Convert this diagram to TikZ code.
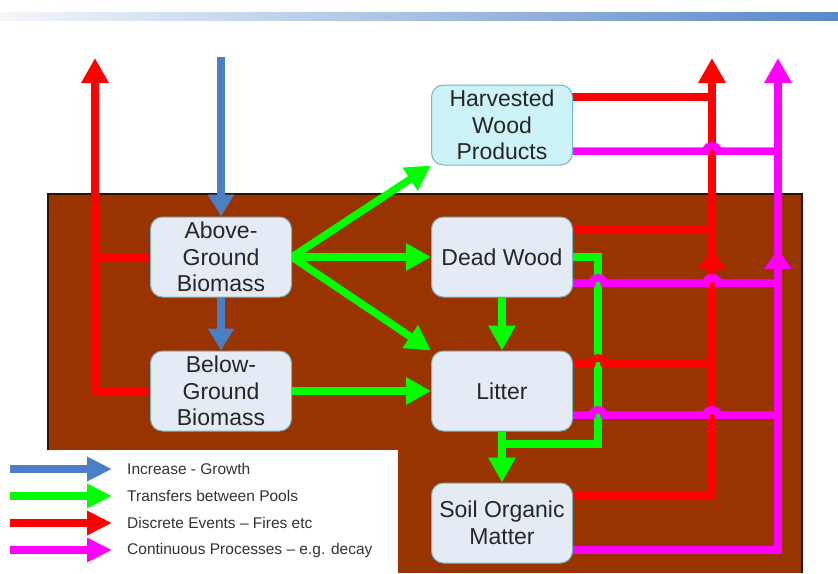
\documentclass[tikz,border=0pt]{standalone}
\usepackage{fontspec}
\setmainfont{Liberation Sans}
\usetikzlibrary{arrows.meta,calc}
\pgfdeclarelayer{back}
\pgfdeclarelayer{wires}
\pgfsetlayers{back,wires,main}

\definecolor{soil}{HTML}{993300}
\definecolor{soilrim}{HTML}{2A1408}
\definecolor{boxfill}{HTML}{E4EBF5}
\definecolor{hwpfill}{HTML}{CCF3F8}
\definecolor{boxedge}{HTML}{76B5C2}
\definecolor{growth}{HTML}{4A7EC5}
\definecolor{transfer}{HTML}{00FF00}
\definecolor{event}{HTML}{FF0000}
\definecolor{process}{HTML}{FF00FF}
\definecolor{txt}{HTML}{262626}
\definecolor{legtxt}{HTML}{333333}
\definecolor{barlight}{HTML}{F4F6FA}
\definecolor{bardark}{HTML}{5A88C8}

\tikzset{
  pool/.style={draw=boxedge, line width=1pt, fill=boxfill, rounded corners=12pt,
    minimum width=141pt, minimum height=80pt, inner sep=0pt, align=center,
    font=\fontsize{23}{26.5}\selectfont, text=txt},
  flow/.style={line width=7.5pt},
  bighead/.style={-{Triangle[width=26pt,length=25pt]}},
  bluehead/.style={-{Triangle[width=25pt,length=22pt]}},
  midhead/.style={-{Triangle[width=26pt,length=20pt]}},
  legarrow/.style={line width=8pt, -{Triangle[width=23pt,length=25pt]}},
  legtext/.style={inner sep=0pt, anchor=west, text=legtxt,
    font=\fontsize{15.5}{18}\selectfont},
  % a horizontal line jumping over a vertical one
  hop/.style={to path={-- ($(\tikztotarget)+(-6,0)$)
    .. controls +(0,-7) and +(0,-7) .. ($(\tikztotarget)+(6,0)$)}}
}

\begin{document}
\begin{tikzpicture}[x=1pt,y=-1pt]
\useasboundingbox (0,0) rectangle (838,573);

% background: title bar, soil block, legend panel
\begin{pgfonlayer}{back}
  \shade[left color=barlight, right color=bardark] (0,12) rectangle (838,20);
  \fill[soil] (48,194) rectangle (802,573);
  \draw[line width=1.2pt, soilrim] (48,573) -- (48,194) -- (802,194) -- (802,573);
  \fill[white] (0,450) rectangle (398,573);
\end{pgfonlayer}

% carbon pools
\node[pool] (agb) at (221,257) {Above-\\Ground\\Biomass};
\node[pool] (bgb) at (221,391) {Below-\\Ground\\Biomass};
\node[pool, fill=hwpfill] (hwp) at (502,125) {Harvested\\Wood\\Products};
\node[pool] (dw)  at (502,257) {Dead Wood};
\node[pool] (lit) at (502,391) {Litter};
\node[pool] (som) at (502,523) {Soil Organic\\Matter};

% trunk ends and corners
\coordinate (sky)     at (221,57);
\coordinate (lefttop) at (95,58);
\coordinate (redtop)  at (712,58);
\coordinate (magtop)  at (778,58);
\coordinate (redmid)  at (712,249);
\coordinate (magmid)  at (778,249);
\coordinate (loopx)   at (598,444);

\begin{pgfonlayer}{wires}
  % growth
  \draw[flow, growth, bluehead] (sky) -- (agb.north);
  \draw[flow, growth, bluehead] (agb.south) -- (bgb.north);

  % transfers between pools
  \draw[flow, transfer, bighead] (agb.east) -- (hwp.south west);
  \draw[flow, transfer, bighead] (agb.east) -- (dw.west);
  \draw[flow, transfer, bighead] (agb.east) -- (lit.north west);
  \draw[flow, transfer, bighead] (bgb.east) -- (lit.west);
  \draw[flow, transfer, bighead] (dw.south) -- (lit.north);
  \draw[flow, transfer] (dw.east) -| (loopx) -- (loopx -| lit.south);
  \draw[flow, transfer, bighead] (lit.south) -- (som.north);

  % discrete events
  \draw[flow, event] (agb.west) -- (agb.west -| lefttop);
  \draw[flow, event, bighead] (bgb.west) -| (lefttop);
  \draw[flow, event] ($(hwp.east)+(-8,-28)$) coordinate (e1) -- (e1 -| redtop);
  \draw[flow, event] ($(dw.east)+(-8,-27)$) coordinate (e2) -- (e2 -| redtop);
  \draw[flow, event] ($(lit.east)+(-8,-28)$) coordinate (e3)
    to[hop] (e3 -| loopx) -- (e3 -| redtop);
  \draw[flow, event, bighead] ($(som.east)+(-8,-28)$) -| (redtop);
  \draw[flow, event, midhead] ([yshift=-22pt]redmid) -- (redmid);

  % continuous processes
  \draw[flow, process] ($(hwp.east)+(-8,26)$) coordinate (p1)
    to[hop] (p1 -| redtop) -- (p1 -| magtop);
  \draw[flow, process] ($(dw.east)+(-8,26)$) coordinate (p2)
    to[hop] (p2 -| loopx) to[hop] (p2 -| redtop) -- (p2 -| magtop);
  \draw[flow, process] ($(lit.east)+(-8,24)$) coordinate (p3)
    to[hop] (p3 -| loopx) to[hop] (p3 -| redtop) -- (p3 -| magtop);
  \draw[flow, process, bighead] ($(som.east)+(-8,27)$) -| (magtop);
  \draw[flow, process, midhead] ([yshift=-22pt]magmid) -- (magmid);
\end{pgfonlayer}

% legend
\node[legtext] (k1) at (127,469) {Increase - Growth};
\node[legtext] (k2) at (127,496) {Transfers between Pools};
\node[legtext] (k3) at (127,523) {Discrete Events -- Fires etc};
\node[legtext] (k4) at (127,550) {Continuous Processes -- e.g. decay};
\coordinate (s1) at (10,469);
\coordinate (s2) at (10,496);
\coordinate (s3) at (10,523);
\coordinate (s4) at (10,550);
\draw[legarrow, growth]   (s1) -- ([xshift=-15pt]k1.west);
\draw[legarrow, transfer] (s2) -- ([xshift=-15pt]k2.west);
\draw[legarrow, event]    (s3) -- ([xshift=-15pt]k3.west);
\draw[legarrow, process]  (s4) -- ([xshift=-15pt]k4.west);
\end{tikzpicture}
\end{document}
